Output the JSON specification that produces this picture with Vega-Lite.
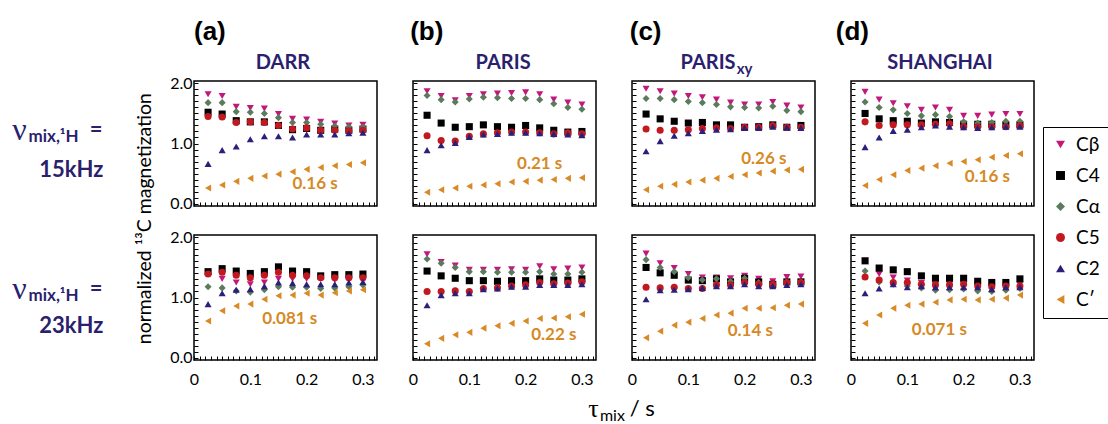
{
"$schema":"https://vega.github.io/schema/vega-lite/v6.json",
"padding":{"left":11,"top":18,"right":5,"bottom":5},
"background":"white",
"datasets":{
"pts":[
{"p":"a1","s":"Cβ","t":0.025,"v":1.82},{"p":"a1","s":"Cβ","t":0.05,"v":1.79},{"p":"a1","s":"Cβ","t":0.075,"v":1.61},{"p":"a1","s":"Cβ","t":0.1,"v":1.59},{"p":"a1","s":"Cβ","t":0.125,"v":1.58},{"p":"a1","s":"Cβ","t":0.15,"v":1.49},{"p":"a1","s":"Cβ","t":0.175,"v":1.41},{"p":"a1","s":"Cβ","t":0.2,"v":1.40},{"p":"a1","s":"Cβ","t":0.225,"v":1.36},{"p":"a1","s":"Cβ","t":0.25,"v":1.33},{"p":"a1","s":"Cβ","t":0.275,"v":1.30},{"p":"a1","s":"Cβ","t":0.3,"v":1.31},
{"p":"a1","s":"C4","t":0.025,"v":1.52},{"p":"a1","s":"C4","t":0.05,"v":1.49},{"p":"a1","s":"C4","t":0.075,"v":1.38},{"p":"a1","s":"C4","t":0.1,"v":1.36},{"p":"a1","s":"C4","t":0.125,"v":1.36},{"p":"a1","s":"C4","t":0.15,"v":1.30},{"p":"a1","s":"C4","t":0.175,"v":1.23},{"p":"a1","s":"C4","t":0.2,"v":1.25},{"p":"a1","s":"C4","t":0.225,"v":1.22},{"p":"a1","s":"C4","t":0.25,"v":1.24},{"p":"a1","s":"C4","t":0.275,"v":1.22},{"p":"a1","s":"C4","t":0.3,"v":1.24},
{"p":"a1","s":"Cα","t":0.025,"v":1.68},{"p":"a1","s":"Cα","t":0.05,"v":1.68},{"p":"a1","s":"Cα","t":0.075,"v":1.53},{"p":"a1","s":"Cα","t":0.1,"v":1.52},{"p":"a1","s":"Cα","t":0.125,"v":1.50},{"p":"a1","s":"Cα","t":0.15,"v":1.43},{"p":"a1","s":"Cα","t":0.175,"v":1.35},{"p":"a1","s":"Cα","t":0.2,"v":1.35},{"p":"a1","s":"Cα","t":0.225,"v":1.32},{"p":"a1","s":"Cα","t":0.25,"v":1.29},{"p":"a1","s":"Cα","t":0.275,"v":1.28},{"p":"a1","s":"Cα","t":0.3,"v":1.27},
{"p":"a1","s":"C5","t":0.025,"v":1.45},{"p":"a1","s":"C5","t":0.05,"v":1.44},{"p":"a1","s":"C5","t":0.075,"v":1.35},{"p":"a1","s":"C5","t":0.1,"v":1.36},{"p":"a1","s":"C5","t":0.125,"v":1.35},{"p":"a1","s":"C5","t":0.15,"v":1.30},{"p":"a1","s":"C5","t":0.175,"v":1.24},{"p":"a1","s":"C5","t":0.2,"v":1.26},{"p":"a1","s":"C5","t":0.225,"v":1.22},{"p":"a1","s":"C5","t":0.25,"v":1.22},{"p":"a1","s":"C5","t":0.275,"v":1.21},{"p":"a1","s":"C5","t":0.3,"v":1.22},
{"p":"a1","s":"C2","t":0.025,"v":0.66},{"p":"a1","s":"C2","t":0.05,"v":0.89},{"p":"a1","s":"C2","t":0.075,"v":0.95},{"p":"a1","s":"C2","t":0.1,"v":1.07},{"p":"a1","s":"C2","t":0.125,"v":1.12},{"p":"a1","s":"C2","t":0.15,"v":1.12},{"p":"a1","s":"C2","t":0.175,"v":1.10},{"p":"a1","s":"C2","t":0.2,"v":1.15},{"p":"a1","s":"C2","t":0.225,"v":1.15},{"p":"a1","s":"C2","t":0.25,"v":1.15},{"p":"a1","s":"C2","t":0.275,"v":1.17},{"p":"a1","s":"C2","t":0.3,"v":1.18},
{"p":"a1","s":"C′","t":0.025,"v":0.26},{"p":"a1","s":"C′","t":0.05,"v":0.31},{"p":"a1","s":"C′","t":0.075,"v":0.37},{"p":"a1","s":"C′","t":0.1,"v":0.42},{"p":"a1","s":"C′","t":0.125,"v":0.46},{"p":"a1","s":"C′","t":0.15,"v":0.49},{"p":"a1","s":"C′","t":0.175,"v":0.53},{"p":"a1","s":"C′","t":0.2,"v":0.57},{"p":"a1","s":"C′","t":0.225,"v":0.60},{"p":"a1","s":"C′","t":0.25,"v":0.63},{"p":"a1","s":"C′","t":0.275,"v":0.65},{"p":"a1","s":"C′","t":0.3,"v":0.68},

{"p":"b1","s":"Cβ","t":0.025,"v":1.87},{"p":"b1","s":"Cβ","t":0.05,"v":1.79},{"p":"b1","s":"Cβ","t":0.075,"v":1.72},{"p":"b1","s":"Cβ","t":0.1,"v":1.79},{"p":"b1","s":"Cβ","t":0.125,"v":1.82},{"p":"b1","s":"Cβ","t":0.15,"v":1.83},{"p":"b1","s":"Cβ","t":0.175,"v":1.84},{"p":"b1","s":"Cβ","t":0.2,"v":1.85},{"p":"b1","s":"Cβ","t":0.225,"v":1.82},{"p":"b1","s":"Cβ","t":0.25,"v":1.73},{"p":"b1","s":"Cβ","t":0.275,"v":1.68},{"p":"b1","s":"Cβ","t":0.3,"v":1.65},
{"p":"b1","s":"C4","t":0.025,"v":1.47},{"p":"b1","s":"C4","t":0.05,"v":1.34},{"p":"b1","s":"C4","t":0.075,"v":1.27},{"p":"b1","s":"C4","t":0.1,"v":1.28},{"p":"b1","s":"C4","t":0.125,"v":1.31},{"p":"b1","s":"C4","t":0.15,"v":1.28},{"p":"b1","s":"C4","t":0.175,"v":1.27},{"p":"b1","s":"C4","t":0.2,"v":1.30},{"p":"b1","s":"C4","t":0.225,"v":1.26},{"p":"b1","s":"C4","t":0.25,"v":1.22},{"p":"b1","s":"C4","t":0.275,"v":1.19},{"p":"b1","s":"C4","t":0.3,"v":1.20},
{"p":"b1","s":"Cα","t":0.025,"v":1.80},{"p":"b1","s":"Cα","t":0.05,"v":1.73},{"p":"b1","s":"Cα","t":0.075,"v":1.69},{"p":"b1","s":"Cα","t":0.1,"v":1.74},{"p":"b1","s":"Cα","t":0.125,"v":1.77},{"p":"b1","s":"Cα","t":0.15,"v":1.76},{"p":"b1","s":"Cα","t":0.175,"v":1.75},{"p":"b1","s":"Cα","t":0.2,"v":1.75},{"p":"b1","s":"Cα","t":0.225,"v":1.73},{"p":"b1","s":"Cα","t":0.25,"v":1.66},{"p":"b1","s":"Cα","t":0.275,"v":1.60},{"p":"b1","s":"Cα","t":0.3,"v":1.57},
{"p":"b1","s":"C5","t":0.025,"v":1.13},{"p":"b1","s":"C5","t":0.05,"v":1.05},{"p":"b1","s":"C5","t":0.075,"v":1.04},{"p":"b1","s":"C5","t":0.1,"v":1.12},{"p":"b1","s":"C5","t":0.125,"v":1.16},{"p":"b1","s":"C5","t":0.15,"v":1.18},{"p":"b1","s":"C5","t":0.175,"v":1.19},{"p":"b1","s":"C5","t":0.2,"v":1.19},{"p":"b1","s":"C5","t":0.225,"v":1.18},{"p":"b1","s":"C5","t":0.25,"v":1.16},{"p":"b1","s":"C5","t":0.275,"v":1.18},{"p":"b1","s":"C5","t":0.3,"v":1.16},
{"p":"b1","s":"C2","t":0.025,"v":0.89},{"p":"b1","s":"C2","t":0.05,"v":0.97},{"p":"b1","s":"C2","t":0.075,"v":1.01},{"p":"b1","s":"C2","t":0.1,"v":1.11},{"p":"b1","s":"C2","t":0.125,"v":1.15},{"p":"b1","s":"C2","t":0.15,"v":1.16},{"p":"b1","s":"C2","t":0.175,"v":1.18},{"p":"b1","s":"C2","t":0.2,"v":1.18},{"p":"b1","s":"C2","t":0.225,"v":1.17},{"p":"b1","s":"C2","t":0.25,"v":1.16},{"p":"b1","s":"C2","t":0.275,"v":1.15},{"p":"b1","s":"C2","t":0.3,"v":1.14},
{"p":"b1","s":"C′","t":0.025,"v":0.19},{"p":"b1","s":"C′","t":0.05,"v":0.23},{"p":"b1","s":"C′","t":0.075,"v":0.26},{"p":"b1","s":"C′","t":0.1,"v":0.29},{"p":"b1","s":"C′","t":0.125,"v":0.31},{"p":"b1","s":"C′","t":0.15,"v":0.33},{"p":"b1","s":"C′","t":0.175,"v":0.36},{"p":"b1","s":"C′","t":0.2,"v":0.37},{"p":"b1","s":"C′","t":0.225,"v":0.39},{"p":"b1","s":"C′","t":0.25,"v":0.40},{"p":"b1","s":"C′","t":0.275,"v":0.42},{"p":"b1","s":"C′","t":0.3,"v":0.43},

{"p":"c1","s":"Cβ","t":0.025,"v":1.91},{"p":"c1","s":"Cβ","t":0.05,"v":1.87},{"p":"c1","s":"Cβ","t":0.075,"v":1.83},{"p":"c1","s":"Cβ","t":0.1,"v":1.79},{"p":"c1","s":"Cβ","t":0.125,"v":1.77},{"p":"c1","s":"Cβ","t":0.15,"v":1.73},{"p":"c1","s":"Cβ","t":0.175,"v":1.68},{"p":"c1","s":"Cβ","t":0.2,"v":1.65},{"p":"c1","s":"Cβ","t":0.225,"v":1.65},{"p":"c1","s":"Cβ","t":0.25,"v":1.69},{"p":"c1","s":"Cβ","t":0.275,"v":1.63},{"p":"c1","s":"Cβ","t":0.3,"v":1.60},
{"p":"c1","s":"C4","t":0.025,"v":1.49},{"p":"c1","s":"C4","t":0.05,"v":1.41},{"p":"c1","s":"C4","t":0.075,"v":1.37},{"p":"c1","s":"C4","t":0.1,"v":1.34},{"p":"c1","s":"C4","t":0.125,"v":1.35},{"p":"c1","s":"C4","t":0.15,"v":1.31},{"p":"c1","s":"C4","t":0.175,"v":1.31},{"p":"c1","s":"C4","t":0.2,"v":1.27},{"p":"c1","s":"C4","t":0.225,"v":1.28},{"p":"c1","s":"C4","t":0.25,"v":1.31},{"p":"c1","s":"C4","t":0.275,"v":1.27},{"p":"c1","s":"C4","t":0.3,"v":1.30},
{"p":"c1","s":"Cα","t":0.025,"v":1.75},{"p":"c1","s":"Cα","t":0.05,"v":1.75},{"p":"c1","s":"Cα","t":0.075,"v":1.73},{"p":"c1","s":"Cα","t":0.1,"v":1.70},{"p":"c1","s":"Cα","t":0.125,"v":1.68},{"p":"c1","s":"Cα","t":0.15,"v":1.65},{"p":"c1","s":"Cα","t":0.175,"v":1.61},{"p":"c1","s":"Cα","t":0.2,"v":1.60},{"p":"c1","s":"Cα","t":0.225,"v":1.59},{"p":"c1","s":"Cα","t":0.25,"v":1.62},{"p":"c1","s":"Cα","t":0.275,"v":1.55},{"p":"c1","s":"Cα","t":0.3,"v":1.53},
{"p":"c1","s":"C5","t":0.025,"v":1.24},{"p":"c1","s":"C5","t":0.05,"v":1.22},{"p":"c1","s":"C5","t":0.075,"v":1.22},{"p":"c1","s":"C5","t":0.1,"v":1.23},{"p":"c1","s":"C5","t":0.125,"v":1.25},{"p":"c1","s":"C5","t":0.15,"v":1.26},{"p":"c1","s":"C5","t":0.175,"v":1.25},{"p":"c1","s":"C5","t":0.2,"v":1.27},{"p":"c1","s":"C5","t":0.225,"v":1.27},{"p":"c1","s":"C5","t":0.25,"v":1.30},{"p":"c1","s":"C5","t":0.275,"v":1.27},{"p":"c1","s":"C5","t":0.3,"v":1.27},
{"p":"c1","s":"C2","t":0.025,"v":0.87},{"p":"c1","s":"C2","t":0.05,"v":1.04},{"p":"c1","s":"C2","t":0.075,"v":1.13},{"p":"c1","s":"C2","t":0.1,"v":1.17},{"p":"c1","s":"C2","t":0.125,"v":1.21},{"p":"c1","s":"C2","t":0.15,"v":1.23},{"p":"c1","s":"C2","t":0.175,"v":1.24},{"p":"c1","s":"C2","t":0.2,"v":1.26},{"p":"c1","s":"C2","t":0.225,"v":1.26},{"p":"c1","s":"C2","t":0.25,"v":1.28},{"p":"c1","s":"C2","t":0.275,"v":1.27},{"p":"c1","s":"C2","t":0.3,"v":1.26},
{"p":"c1","s":"C′","t":0.025,"v":0.23},{"p":"c1","s":"C′","t":0.05,"v":0.29},{"p":"c1","s":"C′","t":0.075,"v":0.32},{"p":"c1","s":"C′","t":0.1,"v":0.36},{"p":"c1","s":"C′","t":0.125,"v":0.39},{"p":"c1","s":"C′","t":0.15,"v":0.42},{"p":"c1","s":"C′","t":0.175,"v":0.45},{"p":"c1","s":"C′","t":0.2,"v":0.48},{"p":"c1","s":"C′","t":0.225,"v":0.51},{"p":"c1","s":"C′","t":0.25,"v":0.54},{"p":"c1","s":"C′","t":0.275,"v":0.56},{"p":"c1","s":"C′","t":0.3,"v":0.57},

{"p":"d1","s":"Cβ","t":0.025,"v":1.86},{"p":"d1","s":"Cβ","t":0.05,"v":1.73},{"p":"d1","s":"Cβ","t":0.075,"v":1.67},{"p":"d1","s":"Cβ","t":0.1,"v":1.62},{"p":"d1","s":"Cβ","t":0.125,"v":1.56},{"p":"d1","s":"Cβ","t":0.15,"v":1.60},{"p":"d1","s":"Cβ","t":0.175,"v":1.56},{"p":"d1","s":"Cβ","t":0.2,"v":1.46},{"p":"d1","s":"Cβ","t":0.225,"v":1.46},{"p":"d1","s":"Cβ","t":0.25,"v":1.48},{"p":"d1","s":"Cβ","t":0.275,"v":1.49},{"p":"d1","s":"Cβ","t":0.3,"v":1.49},
{"p":"d1","s":"C4","t":0.025,"v":1.50},{"p":"d1","s":"C4","t":0.05,"v":1.41},{"p":"d1","s":"C4","t":0.075,"v":1.38},{"p":"d1","s":"C4","t":0.1,"v":1.37},{"p":"d1","s":"C4","t":0.125,"v":1.34},{"p":"d1","s":"C4","t":0.15,"v":1.36},{"p":"d1","s":"C4","t":0.175,"v":1.35},{"p":"d1","s":"C4","t":0.2,"v":1.32},{"p":"d1","s":"C4","t":0.225,"v":1.32},{"p":"d1","s":"C4","t":0.25,"v":1.32},{"p":"d1","s":"C4","t":0.275,"v":1.31},{"p":"d1","s":"C4","t":0.3,"v":1.31},
{"p":"d1","s":"Cα","t":0.025,"v":1.69},{"p":"d1","s":"Cα","t":0.05,"v":1.60},{"p":"d1","s":"Cα","t":0.075,"v":1.56},{"p":"d1","s":"Cα","t":0.1,"v":1.50},{"p":"d1","s":"Cα","t":0.125,"v":1.46},{"p":"d1","s":"Cα","t":0.15,"v":1.48},{"p":"d1","s":"Cα","t":0.175,"v":1.45},{"p":"d1","s":"Cα","t":0.2,"v":1.36},{"p":"d1","s":"Cα","t":0.225,"v":1.34},{"p":"d1","s":"Cα","t":0.25,"v":1.35},{"p":"d1","s":"Cα","t":0.275,"v":1.37},{"p":"d1","s":"Cα","t":0.3,"v":1.37},
{"p":"d1","s":"C5","t":0.025,"v":1.36},{"p":"d1","s":"C5","t":0.05,"v":1.30},{"p":"d1","s":"C5","t":0.075,"v":1.31},{"p":"d1","s":"C5","t":0.1,"v":1.31},{"p":"d1","s":"C5","t":0.125,"v":1.31},{"p":"d1","s":"C5","t":0.15,"v":1.32},{"p":"d1","s":"C5","t":0.175,"v":1.33},{"p":"d1","s":"C5","t":0.2,"v":1.28},{"p":"d1","s":"C5","t":0.225,"v":1.28},{"p":"d1","s":"C5","t":0.25,"v":1.28},{"p":"d1","s":"C5","t":0.275,"v":1.28},{"p":"d1","s":"C5","t":0.3,"v":1.30},
{"p":"d1","s":"C2","t":0.025,"v":0.94},{"p":"d1","s":"C2","t":0.05,"v":1.10},{"p":"d1","s":"C2","t":0.075,"v":1.21},{"p":"d1","s":"C2","t":0.1,"v":1.23},{"p":"d1","s":"C2","t":0.125,"v":1.27},{"p":"d1","s":"C2","t":0.15,"v":1.30},{"p":"d1","s":"C2","t":0.175,"v":1.28},{"p":"d1","s":"C2","t":0.2,"v":1.27},{"p":"d1","s":"C2","t":0.225,"v":1.26},{"p":"d1","s":"C2","t":0.25,"v":1.27},{"p":"d1","s":"C2","t":0.275,"v":1.28},{"p":"d1","s":"C2","t":0.3,"v":1.28},
{"p":"d1","s":"C′","t":0.025,"v":0.30},{"p":"d1","s":"C′","t":0.05,"v":0.40},{"p":"d1","s":"C′","t":0.075,"v":0.48},{"p":"d1","s":"C′","t":0.1,"v":0.55},{"p":"d1","s":"C′","t":0.125,"v":0.59},{"p":"d1","s":"C′","t":0.15,"v":0.63},{"p":"d1","s":"C′","t":0.175,"v":0.67},{"p":"d1","s":"C′","t":0.2,"v":0.70},{"p":"d1","s":"C′","t":0.225,"v":0.73},{"p":"d1","s":"C′","t":0.25,"v":0.77},{"p":"d1","s":"C′","t":0.275,"v":0.80},{"p":"d1","s":"C′","t":0.3,"v":0.83},

{"p":"a2","s":"Cβ","t":0.025,"v":1.40},{"p":"a2","s":"Cβ","t":0.05,"v":1.31},{"p":"a2","s":"Cβ","t":0.075,"v":1.25},{"p":"a2","s":"Cβ","t":0.1,"v":1.22},{"p":"a2","s":"Cβ","t":0.125,"v":1.25},{"p":"a2","s":"Cβ","t":0.15,"v":1.31},{"p":"a2","s":"Cβ","t":0.175,"v":1.31},{"p":"a2","s":"Cβ","t":0.2,"v":1.31},{"p":"a2","s":"Cβ","t":0.225,"v":1.31},{"p":"a2","s":"Cβ","t":0.25,"v":1.29},{"p":"a2","s":"Cβ","t":0.275,"v":1.29},{"p":"a2","s":"Cβ","t":0.3,"v":1.31},
{"p":"a2","s":"C4","t":0.025,"v":1.43},{"p":"a2","s":"C4","t":0.05,"v":1.48},{"p":"a2","s":"C4","t":0.075,"v":1.44},{"p":"a2","s":"C4","t":0.1,"v":1.40},{"p":"a2","s":"C4","t":0.125,"v":1.43},{"p":"a2","s":"C4","t":0.15,"v":1.51},{"p":"a2","s":"C4","t":0.175,"v":1.44},{"p":"a2","s":"C4","t":0.2,"v":1.43},{"p":"a2","s":"C4","t":0.225,"v":1.36},{"p":"a2","s":"C4","t":0.25,"v":1.38},{"p":"a2","s":"C4","t":0.275,"v":1.38},{"p":"a2","s":"C4","t":0.3,"v":1.39},
{"p":"a2","s":"Cα","t":0.025,"v":1.18},{"p":"a2","s":"Cα","t":0.05,"v":1.16},{"p":"a2","s":"Cα","t":0.075,"v":1.11},{"p":"a2","s":"Cα","t":0.1,"v":1.09},{"p":"a2","s":"Cα","t":0.125,"v":1.13},{"p":"a2","s":"Cα","t":0.15,"v":1.18},{"p":"a2","s":"Cα","t":0.175,"v":1.17},{"p":"a2","s":"Cα","t":0.2,"v":1.17},{"p":"a2","s":"Cα","t":0.225,"v":1.15},{"p":"a2","s":"Cα","t":0.25,"v":1.16},{"p":"a2","s":"Cα","t":0.275,"v":1.18},{"p":"a2","s":"Cα","t":0.3,"v":1.21},
{"p":"a2","s":"C5","t":0.025,"v":1.39},{"p":"a2","s":"C5","t":0.05,"v":1.42},{"p":"a2","s":"C5","t":0.075,"v":1.37},{"p":"a2","s":"C5","t":0.1,"v":1.33},{"p":"a2","s":"C5","t":0.125,"v":1.37},{"p":"a2","s":"C5","t":0.15,"v":1.42},{"p":"a2","s":"C5","t":0.175,"v":1.37},{"p":"a2","s":"C5","t":0.2,"v":1.36},{"p":"a2","s":"C5","t":0.225,"v":1.33},{"p":"a2","s":"C5","t":0.25,"v":1.33},{"p":"a2","s":"C5","t":0.275,"v":1.33},{"p":"a2","s":"C5","t":0.3,"v":1.33},
{"p":"a2","s":"C2","t":0.025,"v":0.89},{"p":"a2","s":"C2","t":0.05,"v":1.07},{"p":"a2","s":"C2","t":0.075,"v":1.13},{"p":"a2","s":"C2","t":0.1,"v":1.14},{"p":"a2","s":"C2","t":0.125,"v":1.19},{"p":"a2","s":"C2","t":0.15,"v":1.25},{"p":"a2","s":"C2","t":0.175,"v":1.24},{"p":"a2","s":"C2","t":0.2,"v":1.22},{"p":"a2","s":"C2","t":0.225,"v":1.22},{"p":"a2","s":"C2","t":0.25,"v":1.22},{"p":"a2","s":"C2","t":0.275,"v":1.25},{"p":"a2","s":"C2","t":0.3,"v":1.26},
{"p":"a2","s":"C′","t":0.025,"v":0.61},{"p":"a2","s":"C′","t":0.05,"v":0.78},{"p":"a2","s":"C′","t":0.075,"v":0.86},{"p":"a2","s":"C′","t":0.1,"v":0.89},{"p":"a2","s":"C′","t":0.125,"v":0.97},{"p":"a2","s":"C′","t":0.15,"v":1.03},{"p":"a2","s":"C′","t":0.175,"v":1.04},{"p":"a2","s":"C′","t":0.2,"v":1.07},{"p":"a2","s":"C′","t":0.225,"v":1.04},{"p":"a2","s":"C′","t":0.25,"v":1.08},{"p":"a2","s":"C′","t":0.275,"v":1.11},{"p":"a2","s":"C′","t":0.3,"v":1.13},

{"p":"b2","s":"Cβ","t":0.025,"v":1.72},{"p":"b2","s":"Cβ","t":0.05,"v":1.59},{"p":"b2","s":"Cβ","t":0.075,"v":1.53},{"p":"b2","s":"Cβ","t":0.1,"v":1.46},{"p":"b2","s":"Cβ","t":0.125,"v":1.46},{"p":"b2","s":"Cβ","t":0.15,"v":1.46},{"p":"b2","s":"Cβ","t":0.175,"v":1.47},{"p":"b2","s":"Cβ","t":0.2,"v":1.46},{"p":"b2","s":"Cβ","t":0.225,"v":1.52},{"p":"b2","s":"Cβ","t":0.25,"v":1.47},{"p":"b2","s":"Cβ","t":0.275,"v":1.48},{"p":"b2","s":"Cβ","t":0.3,"v":1.50},
{"p":"b2","s":"C4","t":0.025,"v":1.44},{"p":"b2","s":"C4","t":0.05,"v":1.36},{"p":"b2","s":"C4","t":0.075,"v":1.32},{"p":"b2","s":"C4","t":0.1,"v":1.28},{"p":"b2","s":"C4","t":0.125,"v":1.28},{"p":"b2","s":"C4","t":0.15,"v":1.27},{"p":"b2","s":"C4","t":0.175,"v":1.28},{"p":"b2","s":"C4","t":0.2,"v":1.28},{"p":"b2","s":"C4","t":0.225,"v":1.31},{"p":"b2","s":"C4","t":0.25,"v":1.29},{"p":"b2","s":"C4","t":0.275,"v":1.29},{"p":"b2","s":"C4","t":0.3,"v":1.31},
{"p":"b2","s":"Cα","t":0.025,"v":1.64},{"p":"b2","s":"Cα","t":0.05,"v":1.57},{"p":"b2","s":"Cα","t":0.075,"v":1.50},{"p":"b2","s":"Cα","t":0.1,"v":1.43},{"p":"b2","s":"Cα","t":0.125,"v":1.43},{"p":"b2","s":"Cα","t":0.15,"v":1.42},{"p":"b2","s":"Cα","t":0.175,"v":1.42},{"p":"b2","s":"Cα","t":0.2,"v":1.42},{"p":"b2","s":"Cα","t":0.225,"v":1.43},{"p":"b2","s":"Cα","t":0.25,"v":1.39},{"p":"b2","s":"Cα","t":0.275,"v":1.39},{"p":"b2","s":"Cα","t":0.3,"v":1.42},
{"p":"b2","s":"C5","t":0.025,"v":1.10},{"p":"b2","s":"C5","t":0.05,"v":1.10},{"p":"b2","s":"C5","t":0.075,"v":1.11},{"p":"b2","s":"C5","t":0.1,"v":1.10},{"p":"b2","s":"C5","t":0.125,"v":1.15},{"p":"b2","s":"C5","t":0.15,"v":1.16},{"p":"b2","s":"C5","t":0.175,"v":1.19},{"p":"b2","s":"C5","t":0.2,"v":1.21},{"p":"b2","s":"C5","t":0.225,"v":1.25},{"p":"b2","s":"C5","t":0.25,"v":1.23},{"p":"b2","s":"C5","t":0.275,"v":1.24},{"p":"b2","s":"C5","t":0.3,"v":1.26},
{"p":"b2","s":"C2","t":0.025,"v":0.87},{"p":"b2","s":"C2","t":0.05,"v":1.04},{"p":"b2","s":"C2","t":0.075,"v":1.07},{"p":"b2","s":"C2","t":0.1,"v":1.07},{"p":"b2","s":"C2","t":0.125,"v":1.14},{"p":"b2","s":"C2","t":0.15,"v":1.15},{"p":"b2","s":"C2","t":0.175,"v":1.18},{"p":"b2","s":"C2","t":0.2,"v":1.18},{"p":"b2","s":"C2","t":0.225,"v":1.21},{"p":"b2","s":"C2","t":0.25,"v":1.21},{"p":"b2","s":"C2","t":0.275,"v":1.21},{"p":"b2","s":"C2","t":0.3,"v":1.22},
{"p":"b2","s":"C′","t":0.025,"v":0.23},{"p":"b2","s":"C′","t":0.05,"v":0.32},{"p":"b2","s":"C′","t":0.075,"v":0.38},{"p":"b2","s":"C′","t":0.1,"v":0.42},{"p":"b2","s":"C′","t":0.125,"v":0.49},{"p":"b2","s":"C′","t":0.15,"v":0.53},{"p":"b2","s":"C′","t":0.175,"v":0.57},{"p":"b2","s":"C′","t":0.2,"v":0.61},{"p":"b2","s":"C′","t":0.225,"v":0.65},{"p":"b2","s":"C′","t":0.25,"v":0.66},{"p":"b2","s":"C′","t":0.275,"v":0.68},{"p":"b2","s":"C′","t":0.3,"v":0.72},

{"p":"c2","s":"Cβ","t":0.025,"v":1.73},{"p":"c2","s":"Cβ","t":0.05,"v":1.57},{"p":"c2","s":"Cβ","t":0.075,"v":1.49},{"p":"c2","s":"Cβ","t":0.1,"v":1.39},{"p":"c2","s":"Cβ","t":0.125,"v":1.33},{"p":"c2","s":"Cβ","t":0.15,"v":1.33},{"p":"c2","s":"Cβ","t":0.175,"v":1.32},{"p":"c2","s":"Cβ","t":0.2,"v":1.36},{"p":"c2","s":"Cβ","t":0.225,"v":1.31},{"p":"c2","s":"Cβ","t":0.25,"v":1.27},{"p":"c2","s":"Cβ","t":0.275,"v":1.34},{"p":"c2","s":"Cβ","t":0.3,"v":1.35},
{"p":"c2","s":"C4","t":0.025,"v":1.50},{"p":"c2","s":"C4","t":0.05,"v":1.41},{"p":"c2","s":"C4","t":0.075,"v":1.37},{"p":"c2","s":"C4","t":0.1,"v":1.29},{"p":"c2","s":"C4","t":0.125,"v":1.28},{"p":"c2","s":"C4","t":0.15,"v":1.31},{"p":"c2","s":"C4","t":0.175,"v":1.26},{"p":"c2","s":"C4","t":0.2,"v":1.32},{"p":"c2","s":"C4","t":0.225,"v":1.26},{"p":"c2","s":"C4","t":0.25,"v":1.22},{"p":"c2","s":"C4","t":0.275,"v":1.26},{"p":"c2","s":"C4","t":0.3,"v":1.26},
{"p":"c2","s":"Cα","t":0.025,"v":1.63},{"p":"c2","s":"Cα","t":0.05,"v":1.50},{"p":"c2","s":"Cα","t":0.075,"v":1.43},{"p":"c2","s":"Cα","t":0.1,"v":1.33},{"p":"c2","s":"Cα","t":0.125,"v":1.29},{"p":"c2","s":"Cα","t":0.15,"v":1.31},{"p":"c2","s":"Cα","t":0.175,"v":1.27},{"p":"c2","s":"Cα","t":0.2,"v":1.32},{"p":"c2","s":"Cα","t":0.225,"v":1.25},{"p":"c2","s":"Cα","t":0.25,"v":1.21},{"p":"c2","s":"Cα","t":0.275,"v":1.26},{"p":"c2","s":"Cα","t":0.3,"v":1.26},
{"p":"c2","s":"C5","t":0.025,"v":1.17},{"p":"c2","s":"C5","t":0.05,"v":1.16},{"p":"c2","s":"C5","t":0.075,"v":1.17},{"p":"c2","s":"C5","t":0.1,"v":1.15},{"p":"c2","s":"C5","t":0.125,"v":1.15},{"p":"c2","s":"C5","t":0.15,"v":1.21},{"p":"c2","s":"C5","t":0.175,"v":1.21},{"p":"c2","s":"C5","t":0.2,"v":1.25},{"p":"c2","s":"C5","t":0.225,"v":1.22},{"p":"c2","s":"C5","t":0.25,"v":1.22},{"p":"c2","s":"C5","t":0.275,"v":1.25},{"p":"c2","s":"C5","t":0.3,"v":1.25},
{"p":"c2","s":"C2","t":0.025,"v":0.97},{"p":"c2","s":"C2","t":0.05,"v":1.12},{"p":"c2","s":"C2","t":0.075,"v":1.13},{"p":"c2","s":"C2","t":0.1,"v":1.14},{"p":"c2","s":"C2","t":0.125,"v":1.16},{"p":"c2","s":"C2","t":0.15,"v":1.19},{"p":"c2","s":"C2","t":0.175,"v":1.19},{"p":"c2","s":"C2","t":0.2,"v":1.22},{"p":"c2","s":"C2","t":0.225,"v":1.19},{"p":"c2","s":"C2","t":0.25,"v":1.19},{"p":"c2","s":"C2","t":0.275,"v":1.21},{"p":"c2","s":"C2","t":0.3,"v":1.22},
{"p":"c2","s":"C′","t":0.025,"v":0.33},{"p":"c2","s":"C′","t":0.05,"v":0.44},{"p":"c2","s":"C′","t":0.075,"v":0.54},{"p":"c2","s":"C′","t":0.1,"v":0.59},{"p":"c2","s":"C′","t":0.125,"v":0.65},{"p":"c2","s":"C′","t":0.15,"v":0.71},{"p":"c2","s":"C′","t":0.175,"v":0.74},{"p":"c2","s":"C′","t":0.2,"v":0.82},{"p":"c2","s":"C′","t":0.225,"v":0.82},{"p":"c2","s":"C′","t":0.25,"v":0.83},{"p":"c2","s":"C′","t":0.275,"v":0.87},{"p":"c2","s":"C′","t":0.3,"v":0.89},

{"p":"d2","s":"Cβ","t":0.025,"v":1.61},{"p":"d2","s":"Cβ","t":0.05,"v":1.39},{"p":"d2","s":"Cβ","t":0.075,"v":1.33},{"p":"d2","s":"Cβ","t":0.1,"v":1.28},{"p":"d2","s":"Cβ","t":0.125,"v":1.24},{"p":"d2","s":"Cβ","t":0.15,"v":1.21},{"p":"d2","s":"Cβ","t":0.175,"v":1.22},{"p":"d2","s":"Cβ","t":0.2,"v":1.21},{"p":"d2","s":"Cβ","t":0.225,"v":1.19},{"p":"d2","s":"Cβ","t":0.25,"v":1.17},{"p":"d2","s":"Cβ","t":0.275,"v":1.19},{"p":"d2","s":"Cβ","t":0.3,"v":1.22},
{"p":"d2","s":"C4","t":0.025,"v":1.61},{"p":"d2","s":"C4","t":0.05,"v":1.49},{"p":"d2","s":"C4","t":0.075,"v":1.46},{"p":"d2","s":"C4","t":0.1,"v":1.43},{"p":"d2","s":"C4","t":0.125,"v":1.36},{"p":"d2","s":"C4","t":0.15,"v":1.32},{"p":"d2","s":"C4","t":0.175,"v":1.32},{"p":"d2","s":"C4","t":0.2,"v":1.32},{"p":"d2","s":"C4","t":0.225,"v":1.27},{"p":"d2","s":"C4","t":0.25,"v":1.25},{"p":"d2","s":"C4","t":0.275,"v":1.25},{"p":"d2","s":"C4","t":0.3,"v":1.31},
{"p":"d2","s":"Cα","t":0.025,"v":1.44},{"p":"d2","s":"Cα","t":0.05,"v":1.26},{"p":"d2","s":"Cα","t":0.075,"v":1.22},{"p":"d2","s":"Cα","t":0.1,"v":1.19},{"p":"d2","s":"Cα","t":0.125,"v":1.16},{"p":"d2","s":"Cα","t":0.15,"v":1.12},{"p":"d2","s":"Cα","t":0.175,"v":1.13},{"p":"d2","s":"Cα","t":0.2,"v":1.14},{"p":"d2","s":"Cα","t":0.225,"v":1.11},{"p":"d2","s":"Cα","t":0.25,"v":1.10},{"p":"d2","s":"Cα","t":0.275,"v":1.12},{"p":"d2","s":"Cα","t":0.3,"v":1.15},
{"p":"d2","s":"C5","t":0.025,"v":1.34},{"p":"d2","s":"C5","t":0.05,"v":1.29},{"p":"d2","s":"C5","t":0.075,"v":1.25},{"p":"d2","s":"C5","t":0.1,"v":1.25},{"p":"d2","s":"C5","t":0.125,"v":1.22},{"p":"d2","s":"C5","t":0.15,"v":1.21},{"p":"d2","s":"C5","t":0.175,"v":1.21},{"p":"d2","s":"C5","t":0.2,"v":1.22},{"p":"d2","s":"C5","t":0.225,"v":1.19},{"p":"d2","s":"C5","t":0.25,"v":1.18},{"p":"d2","s":"C5","t":0.275,"v":1.19},{"p":"d2","s":"C5","t":0.3,"v":1.19},
{"p":"d2","s":"C2","t":0.025,"v":1.07},{"p":"d2","s":"C2","t":0.05,"v":1.15},{"p":"d2","s":"C2","t":0.075,"v":1.22},{"p":"d2","s":"C2","t":0.1,"v":1.17},{"p":"d2","s":"C2","t":0.125,"v":1.19},{"p":"d2","s":"C2","t":0.15,"v":1.17},{"p":"d2","s":"C2","t":0.175,"v":1.17},{"p":"d2","s":"C2","t":0.2,"v":1.17},{"p":"d2","s":"C2","t":0.225,"v":1.17},{"p":"d2","s":"C2","t":0.25,"v":1.14},{"p":"d2","s":"C2","t":0.275,"v":1.17},{"p":"d2","s":"C2","t":0.3,"v":1.17},
{"p":"d2","s":"C′","t":0.025,"v":0.57},{"p":"d2","s":"C′","t":0.05,"v":0.71},{"p":"d2","s":"C′","t":0.075,"v":0.82},{"p":"d2","s":"C′","t":0.1,"v":0.87},{"p":"d2","s":"C′","t":0.125,"v":0.89},{"p":"d2","s":"C′","t":0.15,"v":0.92},{"p":"d2","s":"C′","t":0.175,"v":0.96},{"p":"d2","s":"C′","t":0.2,"v":0.97},{"p":"d2","s":"C′","t":0.225,"v":0.96},{"p":"d2","s":"C′","t":0.25,"v":0.97},{"p":"d2","s":"C′","t":0.275,"v":0.99},{"p":"d2","s":"C′","t":0.3,"v":1.04}
],
"ann":[
{"p":"a1","k":"tau","x":0.215,"y":0.33,"txt":"0.16 s"},
{"p":"b1","k":"tau","x":0.225,"y":0.66,"txt":"0.21 s"},
{"p":"c1","k":"tau","x":0.234,"y":0.74,"txt":"0.26 s"},
{"p":"d1","k":"tau","x":0.242,"y":0.44,"txt":"0.16 s"},
{"p":"a2","k":"tau","x":0.17,"y":0.64,"txt":"0.081 s"},
{"p":"b2","k":"tau","x":0.25,"y":0.37,"txt":"0.22 s"},
{"p":"c2","k":"tau","x":0.21,"y":0.44,"txt":"0.14 s"},
{"p":"d2","k":"tau","x":0.157,"y":0.46,"txt":"0.071 s"},
{"p":"a1","k":"hdr","x":0.0,"y":2.85,"txt":"(a)"},
{"p":"b1","k":"hdr","x":-0.005,"y":2.85,"txt":"(b)"},
{"p":"c1","k":"hdr","x":-0.004,"y":2.85,"txt":"(c)"},
{"p":"d1","k":"hdr","x":-0.027,"y":2.85,"txt":"(d)"},
{"p":"a1","k":"meth","x":0.158,"y":2.34,"txt":"DARR"},
{"p":"b1","k":"meth","x":0.16,"y":2.34,"txt":"PARIS"},
{"p":"d1","k":"meth","x":0.158,"y":2.34,"txt":"SHANGHAI"},
{"p":"c1","k":"methr","x":0.184,"y":2.34,"txt":"PARIS"},
{"p":"c1","k":"sub","x":0.186,"y":2.24,"txt":"xy"},
{"p":"a1","k":"nu","x":-0.31,"y":1.23,"txt":"ν"},
{"p":"a1","k":"nusub","x":-0.294,"y":1.11,"txt":"mix,¹H"},
{"p":"a1","k":"eq","x":-0.174,"y":1.23,"txt":"="},
{"p":"a1","k":"khz","x":-0.161,"y":0.56,"txt":"15kHz"},
{"p":"a2","k":"nu","x":-0.31,"y":1.14,"txt":"ν"},
{"p":"a2","k":"nusub","x":-0.294,"y":1.02,"txt":"mix,¹H"},
{"p":"a2","k":"eq","x":-0.174,"y":1.14,"txt":"="},
{"p":"a2","k":"khz","x":-0.161,"y":0.52,"txt":"23kHz"},
{"p":"a1","k":"ytitle","x":-0.087,"y":-0.25,"txt":"normalized ¹³C magnetization"},
{"p":"c2","k":"xtau","x":-0.059,"y":-0.85,"txt":"τ"},
{"p":"c2","k":"xmix","x":-0.057,"y":-0.97,"txt":"mix"},
{"p":"c2","k":"xs","x":-0.004,"y":-0.85,"txt":"/ s"}
]
},
"concat":[
{"width":183,"height":125,"layer":[
 {"data":{"name":"pts"},"transform":[{"filter":"datum.p=='a1'"}],"mark":{"type":"point","filled":true,"size":50,"opacity":1},
  "encoding":{"x":{"field":"t","type":"quantitative","scale":{"domain":[0,0.325],"nice":false},"axis":{"title":null,"labels":false}},
   "y":{"field":"v","type":"quantitative","scale":{"domain":[-0.04,2.04],"nice":false},"axis":{"title":null,"labelExpr":"abs(datum.value-round(datum.value))<0.001 ? format(datum.value,'.1f') : ''"}},
   "color":{"field":"s","type":"nominal","scale":{"domain":["Cβ","C4","Cα","C5","C2","C′"],"range":["#c2187b","#000000","#5b7b5d","#c1191f","#2a1f7a","#d98a26"]},"legend":{"title":null}},
   "shape":{"field":"s","type":"nominal","scale":{"domain":["Cβ","C4","Cα","C5","C2","C′"],"range":["triangle-down","square","diamond","circle","triangle-up","triangle-left"]},"legend":{"title":null}}}},
 {"data":{"name":"ann"},"transform":[{"filter":"datum.p=='a1' && datum.k=='tau'"}],"mark":{"type":"text","font":"Lato","fontSize":17,"fontWeight":"bold","color":"#d68a26"},"encoding":{"x":{"field":"x","type":"quantitative"},"y":{"field":"y","type":"quantitative"},"text":{"field":"txt"}}},
 {"data":{"name":"ann"},"transform":[{"filter":"datum.p=='a1' && datum.k=='hdr'"}],"mark":{"type":"text","font":"Liberation Sans","fontSize":26,"fontWeight":"bold","color":"#000","align":"left","baseline":"middle"},"encoding":{"x":{"field":"x","type":"quantitative"},"y":{"field":"y","type":"quantitative"},"text":{"field":"txt"}}},
 {"data":{"name":"ann"},"transform":[{"filter":"datum.p=='a1' && datum.k=='meth'"}],"mark":{"type":"text","font":"Lato","fontSize":20,"fontWeight":"bold","color":"#2b1f6e","align":"center","baseline":"middle"},"encoding":{"x":{"field":"x","type":"quantitative"},"y":{"field":"y","type":"quantitative"},"text":{"field":"txt"}}},
 {"data":{"name":"ann"},"transform":[{"filter":"datum.p=='a1' && datum.k=='nu'"}],"mark":{"type":"text","font":"Liberation Serif","fontSize":32,"color":"#2b1f6e","align":"center","baseline":"middle"},"encoding":{"x":{"field":"x","type":"quantitative"},"y":{"field":"y","type":"quantitative"},"text":{"field":"txt"}}},
 {"data":{"name":"ann"},"transform":[{"filter":"datum.p=='a1' && datum.k=='nusub'"}],"mark":{"type":"text","font":"Lato","fontSize":17,"fontWeight":"bold","color":"#2b1f6e","align":"left","baseline":"middle"},"encoding":{"x":{"field":"x","type":"quantitative"},"y":{"field":"y","type":"quantitative"},"text":{"field":"txt"}}},
 {"data":{"name":"ann"},"transform":[{"filter":"datum.p=='a1' && datum.k=='eq'"}],"mark":{"type":"text","font":"Lato","fontSize":22,"fontWeight":"bold","color":"#2b1f6e","align":"center","baseline":"middle"},"encoding":{"x":{"field":"x","type":"quantitative"},"y":{"field":"y","type":"quantitative"},"text":{"field":"txt"}}},
 {"data":{"name":"ann"},"transform":[{"filter":"datum.p=='a1' && datum.k=='khz'"}],"mark":{"type":"text","font":"Lato","fontSize":22,"fontWeight":"bold","color":"#2b1f6e","align":"right","baseline":"middle"},"encoding":{"x":{"field":"x","type":"quantitative"},"y":{"field":"y","type":"quantitative"},"text":{"field":"txt"}}},
 {"data":{"name":"ann"},"transform":[{"filter":"datum.p=='a1' && datum.k=='ytitle'"}],"mark":{"type":"text","font":"Lato","fontSize":19.5,"color":"#000","align":"center","baseline":"middle","angle":270},"encoding":{"x":{"field":"x","type":"quantitative"},"y":{"field":"y","type":"quantitative"},"text":{"field":"txt"}}}
]},
{"width":183,"height":125,"layer":[
 {"data":{"name":"pts"},"transform":[{"filter":"datum.p=='b1'"}],"mark":{"type":"point","filled":true,"size":50,"opacity":1},
  "encoding":{"x":{"field":"t","type":"quantitative","scale":{"domain":[0,0.325],"nice":false},"axis":{"title":null,"labels":false}},
   "y":{"field":"v","type":"quantitative","scale":{"domain":[-0.04,2.04],"nice":false},"axis":{"title":null,"labels":false}},
   "color":{"field":"s","type":"nominal","scale":{"domain":["Cβ","C4","Cα","C5","C2","C′"],"range":["#c2187b","#000000","#5b7b5d","#c1191f","#2a1f7a","#d98a26"]},"legend":{"title":null}},
   "shape":{"field":"s","type":"nominal","scale":{"domain":["Cβ","C4","Cα","C5","C2","C′"],"range":["triangle-down","square","diamond","circle","triangle-up","triangle-left"]},"legend":{"title":null}}}},
 {"data":{"name":"ann"},"transform":[{"filter":"datum.p=='b1' && datum.k=='tau'"}],"mark":{"type":"text","font":"Lato","fontSize":17,"fontWeight":"bold","color":"#d68a26"},"encoding":{"x":{"field":"x","type":"quantitative"},"y":{"field":"y","type":"quantitative"},"text":{"field":"txt"}}},
 {"data":{"name":"ann"},"transform":[{"filter":"datum.p=='b1' && datum.k=='hdr'"}],"mark":{"type":"text","font":"Liberation Sans","fontSize":26,"fontWeight":"bold","color":"#000","align":"left","baseline":"middle"},"encoding":{"x":{"field":"x","type":"quantitative"},"y":{"field":"y","type":"quantitative"},"text":{"field":"txt"}}},
 {"data":{"name":"ann"},"transform":[{"filter":"datum.p=='b1' && datum.k=='meth'"}],"mark":{"type":"text","font":"Lato","fontSize":20,"fontWeight":"bold","color":"#2b1f6e","align":"center","baseline":"middle"},"encoding":{"x":{"field":"x","type":"quantitative"},"y":{"field":"y","type":"quantitative"},"text":{"field":"txt"}}}
]},
{"width":183,"height":125,"layer":[
 {"data":{"name":"pts"},"transform":[{"filter":"datum.p=='c1'"}],"mark":{"type":"point","filled":true,"size":50,"opacity":1},
  "encoding":{"x":{"field":"t","type":"quantitative","scale":{"domain":[0,0.325],"nice":false},"axis":{"title":null,"labels":false}},
   "y":{"field":"v","type":"quantitative","scale":{"domain":[-0.04,2.04],"nice":false},"axis":{"title":null,"labels":false}},
   "color":{"field":"s","type":"nominal","scale":{"domain":["Cβ","C4","Cα","C5","C2","C′"],"range":["#c2187b","#000000","#5b7b5d","#c1191f","#2a1f7a","#d98a26"]},"legend":{"title":null}},
   "shape":{"field":"s","type":"nominal","scale":{"domain":["Cβ","C4","Cα","C5","C2","C′"],"range":["triangle-down","square","diamond","circle","triangle-up","triangle-left"]},"legend":{"title":null}}}},
 {"data":{"name":"ann"},"transform":[{"filter":"datum.p=='c1' && datum.k=='tau'"}],"mark":{"type":"text","font":"Lato","fontSize":17,"fontWeight":"bold","color":"#d68a26"},"encoding":{"x":{"field":"x","type":"quantitative"},"y":{"field":"y","type":"quantitative"},"text":{"field":"txt"}}},
 {"data":{"name":"ann"},"transform":[{"filter":"datum.p=='c1' && datum.k=='hdr'"}],"mark":{"type":"text","font":"Liberation Sans","fontSize":26,"fontWeight":"bold","color":"#000","align":"left","baseline":"middle"},"encoding":{"x":{"field":"x","type":"quantitative"},"y":{"field":"y","type":"quantitative"},"text":{"field":"txt"}}},
 {"data":{"name":"ann"},"transform":[{"filter":"datum.p=='c1' && datum.k=='methr'"}],"mark":{"type":"text","font":"Lato","fontSize":20,"fontWeight":"bold","color":"#2b1f6e","align":"right","baseline":"middle"},"encoding":{"x":{"field":"x","type":"quantitative"},"y":{"field":"y","type":"quantitative"},"text":{"field":"txt"}}},
 {"data":{"name":"ann"},"transform":[{"filter":"datum.p=='c1' && datum.k=='sub'"}],"mark":{"type":"text","font":"Lato","fontSize":15,"fontWeight":"bold","color":"#2b1f6e","align":"left","baseline":"middle"},"encoding":{"x":{"field":"x","type":"quantitative"},"y":{"field":"y","type":"quantitative"},"text":{"field":"txt"}}}
]},
{"width":183,"height":125,"layer":[
 {"data":{"name":"pts"},"transform":[{"filter":"datum.p=='d1'"}],"mark":{"type":"point","filled":true,"size":50,"opacity":1},
  "encoding":{"x":{"field":"t","type":"quantitative","scale":{"domain":[0,0.325],"nice":false},"axis":{"title":null,"labels":false}},
   "y":{"field":"v","type":"quantitative","scale":{"domain":[-0.04,2.04],"nice":false},"axis":{"title":null,"labels":false}},
   "color":{"field":"s","type":"nominal","scale":{"domain":["Cβ","C4","Cα","C5","C2","C′"],"range":["#c2187b","#000000","#5b7b5d","#c1191f","#2a1f7a","#d98a26"]},"legend":{"title":null}},
   "shape":{"field":"s","type":"nominal","scale":{"domain":["Cβ","C4","Cα","C5","C2","C′"],"range":["triangle-down","square","diamond","circle","triangle-up","triangle-left"]},"legend":{"title":null}}}},
 {"data":{"name":"ann"},"transform":[{"filter":"datum.p=='d1' && datum.k=='tau'"}],"mark":{"type":"text","font":"Lato","fontSize":17,"fontWeight":"bold","color":"#d68a26"},"encoding":{"x":{"field":"x","type":"quantitative"},"y":{"field":"y","type":"quantitative"},"text":{"field":"txt"}}},
 {"data":{"name":"ann"},"transform":[{"filter":"datum.p=='d1' && datum.k=='hdr'"}],"mark":{"type":"text","font":"Liberation Sans","fontSize":26,"fontWeight":"bold","color":"#000","align":"left","baseline":"middle"},"encoding":{"x":{"field":"x","type":"quantitative"},"y":{"field":"y","type":"quantitative"},"text":{"field":"txt"}}},
 {"data":{"name":"ann"},"transform":[{"filter":"datum.p=='d1' && datum.k=='meth'"}],"mark":{"type":"text","font":"Lato","fontSize":20,"fontWeight":"bold","color":"#2b1f6e","align":"center","baseline":"middle"},"encoding":{"x":{"field":"x","type":"quantitative"},"y":{"field":"y","type":"quantitative"},"text":{"field":"txt"}}}
]},
{"width":183,"height":125,"layer":[
 {"data":{"name":"pts"},"transform":[{"filter":"datum.p=='a2'"}],"mark":{"type":"point","filled":true,"size":50,"opacity":1},
  "encoding":{"x":{"field":"t","type":"quantitative","scale":{"domain":[0,0.325],"nice":false},"axis":{"title":null,"labelExpr":"abs(datum.value*10-round(datum.value*10))<0.001 ? (datum.value==0 ? '0' : format(datum.value,'.1f')) : ''"}},
   "y":{"field":"v","type":"quantitative","scale":{"domain":[-0.04,2.04],"nice":false},"axis":{"title":null,"labelExpr":"abs(datum.value-round(datum.value))<0.001 ? format(datum.value,'.1f') : ''"}},
   "color":{"field":"s","type":"nominal","scale":{"domain":["Cβ","C4","Cα","C5","C2","C′"],"range":["#c2187b","#000000","#5b7b5d","#c1191f","#2a1f7a","#d98a26"]},"legend":{"title":null}},
   "shape":{"field":"s","type":"nominal","scale":{"domain":["Cβ","C4","Cα","C5","C2","C′"],"range":["triangle-down","square","diamond","circle","triangle-up","triangle-left"]},"legend":{"title":null}}}},
 {"data":{"name":"ann"},"transform":[{"filter":"datum.p=='a2' && datum.k=='tau'"}],"mark":{"type":"text","font":"Lato","fontSize":17,"fontWeight":"bold","color":"#d68a26"},"encoding":{"x":{"field":"x","type":"quantitative"},"y":{"field":"y","type":"quantitative"},"text":{"field":"txt"}}},
 {"data":{"name":"ann"},"transform":[{"filter":"datum.p=='a2' && datum.k=='nu'"}],"mark":{"type":"text","font":"Liberation Serif","fontSize":32,"color":"#2b1f6e","align":"center","baseline":"middle"},"encoding":{"x":{"field":"x","type":"quantitative"},"y":{"field":"y","type":"quantitative"},"text":{"field":"txt"}}},
 {"data":{"name":"ann"},"transform":[{"filter":"datum.p=='a2' && datum.k=='nusub'"}],"mark":{"type":"text","font":"Lato","fontSize":17,"fontWeight":"bold","color":"#2b1f6e","align":"left","baseline":"middle"},"encoding":{"x":{"field":"x","type":"quantitative"},"y":{"field":"y","type":"quantitative"},"text":{"field":"txt"}}},
 {"data":{"name":"ann"},"transform":[{"filter":"datum.p=='a2' && datum.k=='eq'"}],"mark":{"type":"text","font":"Lato","fontSize":22,"fontWeight":"bold","color":"#2b1f6e","align":"center","baseline":"middle"},"encoding":{"x":{"field":"x","type":"quantitative"},"y":{"field":"y","type":"quantitative"},"text":{"field":"txt"}}},
 {"data":{"name":"ann"},"transform":[{"filter":"datum.p=='a2' && datum.k=='khz'"}],"mark":{"type":"text","font":"Lato","fontSize":22,"fontWeight":"bold","color":"#2b1f6e","align":"right","baseline":"middle"},"encoding":{"x":{"field":"x","type":"quantitative"},"y":{"field":"y","type":"quantitative"},"text":{"field":"txt"}}}
]},
{"width":183,"height":125,"layer":[
 {"data":{"name":"pts"},"transform":[{"filter":"datum.p=='b2'"}],"mark":{"type":"point","filled":true,"size":50,"opacity":1},
  "encoding":{"x":{"field":"t","type":"quantitative","scale":{"domain":[0,0.325],"nice":false},"axis":{"title":null,"labelExpr":"abs(datum.value*10-round(datum.value*10))<0.001 ? (datum.value==0 ? '0' : format(datum.value,'.1f')) : ''"}},
   "y":{"field":"v","type":"quantitative","scale":{"domain":[-0.04,2.04],"nice":false},"axis":{"title":null,"labels":false}},
   "color":{"field":"s","type":"nominal","scale":{"domain":["Cβ","C4","Cα","C5","C2","C′"],"range":["#c2187b","#000000","#5b7b5d","#c1191f","#2a1f7a","#d98a26"]},"legend":{"title":null}},
   "shape":{"field":"s","type":"nominal","scale":{"domain":["Cβ","C4","Cα","C5","C2","C′"],"range":["triangle-down","square","diamond","circle","triangle-up","triangle-left"]},"legend":{"title":null}}}},
 {"data":{"name":"ann"},"transform":[{"filter":"datum.p=='b2' && datum.k=='tau'"}],"mark":{"type":"text","font":"Lato","fontSize":17,"fontWeight":"bold","color":"#d68a26"},"encoding":{"x":{"field":"x","type":"quantitative"},"y":{"field":"y","type":"quantitative"},"text":{"field":"txt"}}}
]},
{"width":183,"height":125,"layer":[
 {"data":{"name":"pts"},"transform":[{"filter":"datum.p=='c2'"}],"mark":{"type":"point","filled":true,"size":50,"opacity":1},
  "encoding":{"x":{"field":"t","type":"quantitative","scale":{"domain":[0,0.325],"nice":false},"axis":{"title":null,"labelExpr":"abs(datum.value*10-round(datum.value*10))<0.001 ? (datum.value==0 ? '0' : format(datum.value,'.1f')) : ''"}},
   "y":{"field":"v","type":"quantitative","scale":{"domain":[-0.04,2.04],"nice":false},"axis":{"title":null,"labels":false}},
   "color":{"field":"s","type":"nominal","scale":{"domain":["Cβ","C4","Cα","C5","C2","C′"],"range":["#c2187b","#000000","#5b7b5d","#c1191f","#2a1f7a","#d98a26"]},"legend":{"title":null}},
   "shape":{"field":"s","type":"nominal","scale":{"domain":["Cβ","C4","Cα","C5","C2","C′"],"range":["triangle-down","square","diamond","circle","triangle-up","triangle-left"]},"legend":{"title":null}}}},
 {"data":{"name":"ann"},"transform":[{"filter":"datum.p=='c2' && datum.k=='tau'"}],"mark":{"type":"text","font":"Lato","fontSize":17,"fontWeight":"bold","color":"#d68a26"},"encoding":{"x":{"field":"x","type":"quantitative"},"y":{"field":"y","type":"quantitative"},"text":{"field":"txt"}}},
 {"data":{"name":"ann"},"transform":[{"filter":"datum.p=='c2' && datum.k=='xtau'"}],"mark":{"type":"text","font":"Liberation Serif","fontSize":26,"color":"#000","align":"right","baseline":"middle"},"encoding":{"x":{"field":"x","type":"quantitative"},"y":{"field":"y","type":"quantitative"},"text":{"field":"txt"}}},
 {"data":{"name":"ann"},"transform":[{"filter":"datum.p=='c2' && datum.k=='xmix'"}],"mark":{"type":"text","font":"Lato","fontSize":16,"color":"#000","align":"left","baseline":"middle"},"encoding":{"x":{"field":"x","type":"quantitative"},"y":{"field":"y","type":"quantitative"},"text":{"field":"txt"}}},
 {"data":{"name":"ann"},"transform":[{"filter":"datum.p=='c2' && datum.k=='xs'"}],"mark":{"type":"text","font":"Lato","fontSize":22,"color":"#000","align":"left","baseline":"middle"},"encoding":{"x":{"field":"x","type":"quantitative"},"y":{"field":"y","type":"quantitative"},"text":{"field":"txt"}}}
]},
{"width":183,"height":125,"layer":[
 {"data":{"name":"pts"},"transform":[{"filter":"datum.p=='d2'"}],"mark":{"type":"point","filled":true,"size":50,"opacity":1},
  "encoding":{"x":{"field":"t","type":"quantitative","scale":{"domain":[0,0.325],"nice":false},"axis":{"title":null,"labelExpr":"abs(datum.value*10-round(datum.value*10))<0.001 ? (datum.value==0 ? '0' : format(datum.value,'.1f')) : ''"}},
   "y":{"field":"v","type":"quantitative","scale":{"domain":[-0.04,2.04],"nice":false},"axis":{"title":null,"labels":false}},
   "color":{"field":"s","type":"nominal","scale":{"domain":["Cβ","C4","Cα","C5","C2","C′"],"range":["#c2187b","#000000","#5b7b5d","#c1191f","#2a1f7a","#d98a26"]},"legend":{"title":null}},
   "shape":{"field":"s","type":"nominal","scale":{"domain":["Cβ","C4","Cα","C5","C2","C′"],"range":["triangle-down","square","diamond","circle","triangle-up","triangle-left"]},"legend":{"title":null}}}},
 {"data":{"name":"ann"},"transform":[{"filter":"datum.p=='d2' && datum.k=='tau'"}],"mark":{"type":"text","font":"Lato","fontSize":17,"fontWeight":"bold","color":"#d68a26"},"encoding":{"x":{"field":"x","type":"quantitative"},"y":{"field":"y","type":"quantitative"},"text":{"field":"txt"}}}
]}
],
"columns":4,
"spacing":{"row":29,"column":36},
"bounds":"flush",
"resolve":{"scale":{"color":"shared","shape":"shared"},"legend":{"color":"shared","shape":"shared"}},
"config":{
 "view":{"stroke":"#000","strokeWidth":1.5},
 "axis":{"tickSize":-4,"tickColor":"#000","tickWidth":1,"domain":false,"grid":false,"labelFont":"Lato","labelFontSize":16,"labelColor":"#000","labelOverlap":false,"labelFlush":false,"labelPadding":6},
 "axisX":{"tickCount":33,"labelPadding":15},
 "axisY":{"tickCount":21},
 "legend":{"orient":"none","legendX":849,"legendY":46,"strokeColor":"#000","strokeWidth":1,"padding":8,"labelFont":"Lato","labelFontSize":19,"labelColor":"#000","symbolSize":80,"rowPadding":11,"labelOffset":6,"symbolStrokeWidth":0,"symbolOpacity":1,"title":null}
}
}
